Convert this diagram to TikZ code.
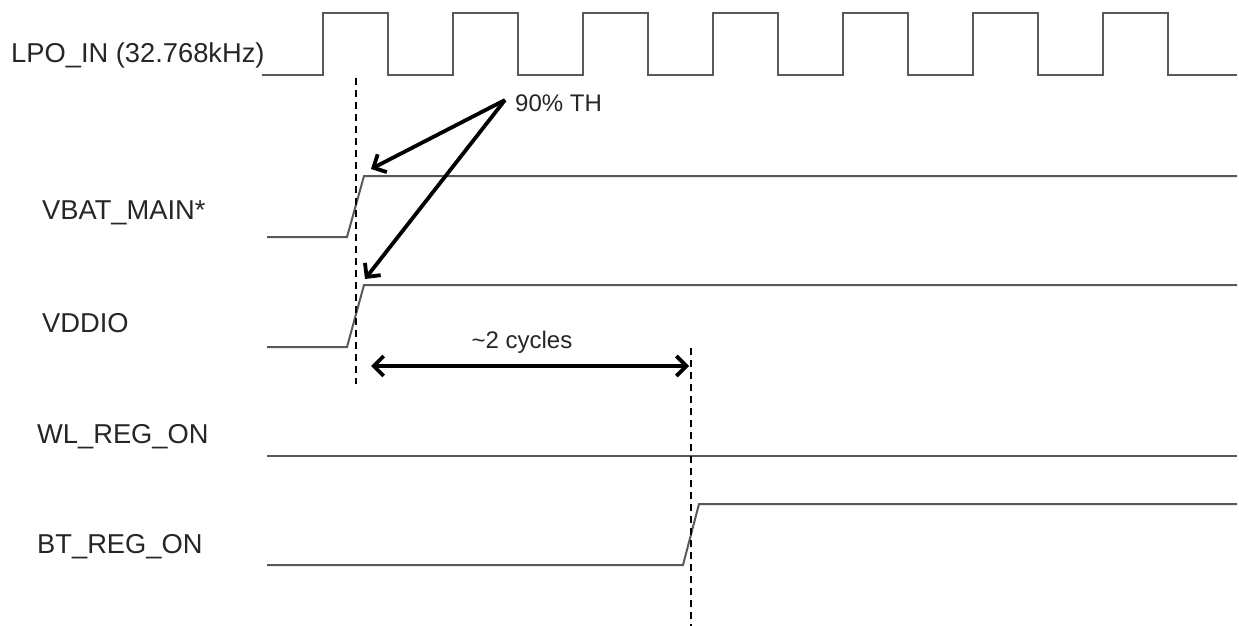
\documentclass[tikz,border=0pt]{standalone}
\usepackage{fontspec}
\setmainfont{Liberation Sans}
\usetikzlibrary{arrows.meta}
\begin{document}
\begin{tikzpicture}[x=1pt,y=-1pt,
  siglabel/.style={anchor=west,inner sep=0pt,font=\fontsize{27.3}{31}\selectfont,text=black!85},
  note/.style={inner sep=0pt,font=\fontsize{24}{28}\selectfont,text=black!85},
  clockline/.style={draw=black!65,line width=2.2pt,line join=miter},
  wave/.style={draw=black!65,line width=2pt,line join=miter},
  marker/.style={draw=black,line width=2.8pt,dash pattern=on 7pt off 5pt},
  pointer/.style={draw=black,line width=3.8pt,-{Straight Barb[length=10pt,width=20pt,line width=3.8pt]}},
  span/.style={draw=black,line width=3.8pt,{Straight Barb[length=10pt,width=20pt,line width=3.8pt]}-{Straight Barb[length=10pt,width=20pt,line width=3.8pt]}}]
\useasboundingbox (0,0) rectangle (1239,626);
% labels
\node[siglabel] (lpo) at (11,55) {LPO\_IN (32.768kHz)};
\node[siglabel] (vbat) at (42,213) {VBAT\_MAIN*};
\node[siglabel] (vddio) at (42,323) {VDDIO};
\node[siglabel] (wl) at (37,437) {WL\_REG\_ON};
\node[siglabel] (bt) at (37,547) {BT\_REG\_ON};
% clock
\draw[clockline] (262,75) -- (323,75)
  \foreach \k in {0,...,6} { -- (323+130*\k,75) -- (323+130*\k,13) -- (388+130*\k,13) -- (388+130*\k,75) }
  -- (1237,75);
% VBAT_MAIN
\draw[wave] (267,237) -- (347,237) -- (364,176) -- (1237,176);
% VDDIO
\draw[wave] (267,347) -- (347,347) -- (364,285) -- (1237,285);
% WL_REG_ON
\draw[wave] (267,456) -- (1237,456);
% BT_REG_ON
\draw[wave] (267,565) -- (683,565) -- (699,504) -- (1237,504);
% dashed markers
\coordinate (m1top) at (356,78);
\coordinate (m1bot) at (356,384);
\coordinate (m2top) at (691,348);
\coordinate (m2bot) at (691,626);
\draw[marker] (m1top) -- (m1bot);
\draw[marker] (m2top) -- (m2bot);
% 90% TH
\node[note,anchor=west] (th) at (515,103) {90\% TH};
\coordinate (thsrc) at (505,100);
\coordinate (tipvbat) at (371,169);
\coordinate (tipvddio) at (365,279);
\draw[pointer] (thsrc) -- (tipvbat);
\draw[pointer] (thsrc) -- (tipvddio);
% ~2 cycles
\node[note] (cyc) at (522,342) {\textasciitilde 2 cycles};
\coordinate (cycl) at (371,366);
\coordinate (cycr) at (689,366);
\draw[span] (cycl) -- (cycr);
\end{tikzpicture}
\end{document}
